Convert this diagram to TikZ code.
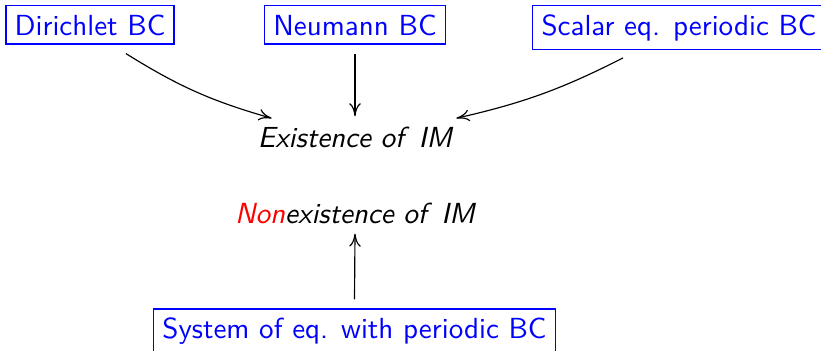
\documentclass[tikz,border=0pt]{standalone}
\usepackage{amsmath,amssymb}
\usepackage{tikz}
\usetikzlibrary{arrows.meta}

\begin{document}
\begin{tikzpicture}[x=0.0121cm,y=-0.0121cm,font=\sffamily,>={To[length=4.5pt,width=4pt]},
    bcbox/.style={draw=blue,text=blue,inner sep=3pt,outer sep=3.3pt,anchor=base},
    imtext/.style={font=\sffamily\itshape,anchor=base}]
    \useasboundingbox (0,0) rectangle (821,350);
    \node[bcbox] (dir) at (90,35) {Dirichlet BC};
    \node[bcbox] (neu) at (355,35) {Neumann BC};
    \node[bcbox] (sca) at (679,35) {Scalar eq. periodic BC};
    \node[imtext] (ex) at (355,147) {Existence of\ \,IM};
    \node[imtext] (non) at (355,223) {\textcolor{red}{Non}existence of\ \,IM};
    \node[bcbox] (sys) at (354.5,338.5) {System of eq. with periodic BC};
    \draw[->] ([shift={(36,0)}]dir.south) to[bend right=8] ([shift={(24,2)}]ex.north west);
    \draw[->] (neu.south) -- (ex.north);
    \draw[->] ([shift={(-56,-1)}]sca.south) to[bend left=7] ([shift={(-6,2)}]ex.north east);
    \draw[->] (sys.north) -- (non.south);
  \end{tikzpicture}
\end{document}
